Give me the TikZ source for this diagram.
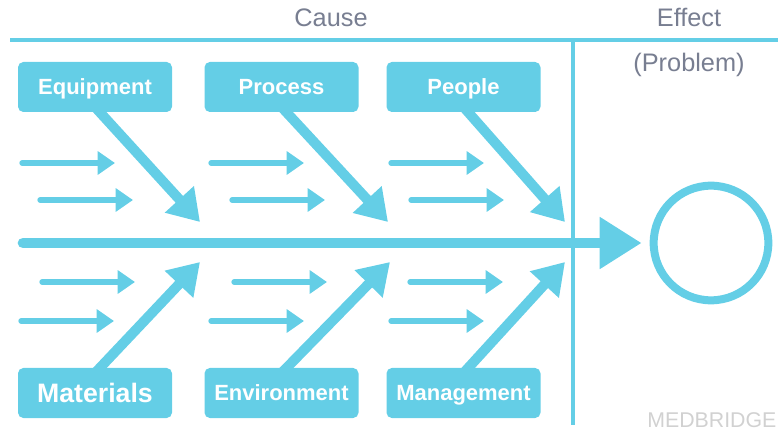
\documentclass[tikz,border=0pt]{standalone}
\usepackage{fontspec}
\setmainfont{Liberation Sans}
\usetikzlibrary{arrows.meta}
\definecolor{tuerkis}{RGB}{100,206,230}
\definecolor{grau}{RGB}{120,126,145}

\begin{document}
\begin{tikzpicture}[
    x=0.75pt, y=-0.75pt,
    kasten/.style={
      fill=tuerkis,
      rounded corners=4pt,
      minimum width=115.5pt,
      minimum height=37.5pt,
      text height=12pt,
      text depth=0pt,
      text=white,
      font=\fontsize{16.5}{18}\selectfont\bfseries},
    kopf/.style={
      text=grau,
      anchor=base,
      font=\fontsize{19}{22}\selectfont},
    graete/.style={
      draw=tuerkis,
      line width=7.5pt,
      -{Triangle[length=23pt,width=28pt]}},
    zweig/.style={
      draw=tuerkis,
      line width=4pt,
      line cap=round,
      -{Triangle[length=13pt,width=17pt]}}
    ]

  \useasboundingbox (0,0) rectangle (778,434);

  \draw[tuerkis, line width=2.6pt] (10,40) -- (778,40);
  \draw[tuerkis, line width=3pt] (573,40) -- (573,425);

  \node at (331,27) (ursache) [kopf] {Cause};
  \node at (689,27) (effekt) [kopf] {Effect};
  \node at (689,72) (problem) [kopf] {(Problem)};

  \node at (95,87) (kasten0) [kasten] {Equipment};
  \node at (281.5,87) (kasten1) [kasten] {Process};
  \node at (463.5,87) (kasten2) [kasten] {People};

  \node at (95,393) (kasten3) [kasten, text height=14.5pt, font=\fontsize{20}{24}\selectfont\bfseries] {Materials};
  \node at (281.5,393) (kasten4) [kasten] {Environment};
  \node at (463.5,393) (kasten5) [kasten] {Management};

  \node at (711,243) (wirkung) [circle, draw=tuerkis, line width=6pt, minimum size=86pt, inner sep=0pt] {};
  \node at (647,427) (marke) [anchor=base west, inner sep=0pt, text=black!18, font=\fontsize{16}{19}\selectfont] {MEDBRIDGE};

  \coordinate (schwanz) at (23,243);
  \coordinate (spitze0) at (200,222);
  \coordinate (spitze1) at (388,222);
  \coordinate (spitze2) at (565,222);
  \coordinate (spitze3) at (200,262);
  \coordinate (spitze4) at (390,262);
  \coordinate (spitze5) at (565,262);

  \foreach \i/\x/\y in {0/19/163, 1/37/200, 2/208/163, 3/229/200, 4/388/163, 5/408/200,
                        6/39/282, 7/18/321, 8/231/282, 9/208/321, 10/407/282, 11/388/321}
  {
    \coordinate (von\i) at (\x+3,\y);
    \coordinate (nach\i) at (\x+96,\y);
    \draw[zweig] (von\i) -- (nach\i);
  }

  \path[every edge/.style={graete}]

        ([yshift=4pt]kasten0.south) edge (spitze0)
        ([yshift=4pt]kasten1.south) edge (spitze1)
        ([yshift=4pt]kasten2.south) edge (spitze2)

        ([yshift=-4pt]kasten3.north) edge (spitze3)
        ([yshift=-4pt]kasten4.north) edge (spitze4)
        ([yshift=-4pt]kasten5.north) edge (spitze5)
   ;

  \draw[tuerkis, line width=8pt, line cap=round, -{Triangle[length=31.5pt,width=37pt]}, shorten >=6pt] (schwanz) -- (wirkung);

\end{tikzpicture}
\end{document}
